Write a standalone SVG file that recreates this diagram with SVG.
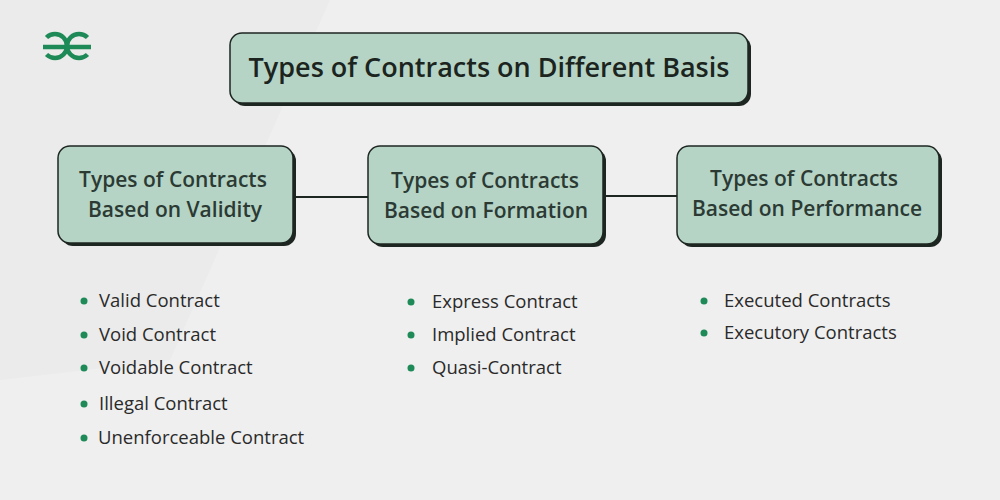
<svg xmlns="http://www.w3.org/2000/svg" width="1000" height="500" viewBox="0 0 1000 500">
<style>
.box{fill:#b5d4c6;stroke:#1e2622;stroke-width:1.5}
.sh{fill:#1e2622}
.t{font-family:"Open Sans","Noto Sans",sans-serif;font-weight:600;fill:#2c3a34;text-anchor:middle}
.li{font-family:"Open Sans","Noto Sans",sans-serif;font-size:18.5px;fill:#2a2a2a}
.dot{fill:#1e8a57}
</style>
<rect width="1000" height="500" fill="#efefef"/>
<polygon points="0,0 330,0 170,360 0,380" fill="#ebebeb"/>
<g id="logo" fill="none" stroke="#1e8a57" stroke-width="4.5">
<path d="M46.5,37.5 A12,12 0 1 1 46.5,54.5 M43,47 H67"/>
<path d="M87.5,37.5 A12,12 0 1 0 87.5,54.5 M67,47 H91"/>
</g>
<g id="title">
<rect class="sh" x="233" y="36" width="518" height="70" rx="12"/>
<rect class="box" x="230" y="33" width="518" height="70" rx="12"/>
<text class="t" x="489" y="77" font-size="27" style="fill:#1c2420">Types of Contracts on Different Basis</text>
</g>
<g id="connectors" stroke="#1e2622" stroke-width="2">
<line x1="294" y1="197" x2="368" y2="197"/>
<line x1="604" y1="196" x2="677" y2="196"/>
</g>
<g id="validity">
<rect class="sh" x="61" y="149" width="235" height="97" rx="12"/>
<rect class="box" x="58" y="146" width="235" height="97" rx="12"/>
<text class="t" x="173" y="187" font-size="21">Types of Contracts</text>
<text class="t" x="175" y="217" font-size="21">Based on Validity</text>
</g>
<g id="formation">
<rect class="sh" x="371" y="149" width="235" height="98" rx="12"/>
<rect class="box" x="368" y="146" width="235" height="98" rx="12"/>
<text class="t" x="485" y="188" font-size="21">Types of Contracts</text>
<text class="t" x="486" y="218" font-size="21">Based on Formation</text>
</g>
<g id="performance">
<rect class="sh" x="680" y="149" width="262" height="98" rx="12"/>
<rect class="box" x="677" y="146" width="262" height="98" rx="12"/>
<text class="t" x="804" y="186" font-size="21">Types of Contracts</text>
<text class="t" x="807" y="216" font-size="21">Based on Performance</text>
</g>
<g id="list-validity">
<circle class="dot" cx="84" cy="301" r="3.5"/><text class="li" x="99" y="307">Valid Contract</text>
<circle class="dot" cx="84" cy="335" r="3.5"/><text class="li" x="99" y="341">Void Contract</text>
<circle class="dot" cx="84" cy="368" r="3.5"/><text class="li" x="99" y="374">Voidable Contract</text>
<circle class="dot" cx="84" cy="404" r="3.5"/><text class="li" x="99" y="410">Illegal Contract</text>
<circle class="dot" cx="84" cy="438" r="3.5"/><text class="li" x="98" y="444">Unenforceable Contract</text>
</g>
<g id="list-formation">
<circle class="dot" cx="411" cy="302" r="3.5"/><text class="li" x="432" y="308">Express Contract</text>
<circle class="dot" cx="411" cy="335" r="3.5"/><text class="li" x="432" y="341">Implied Contract</text>
<circle class="dot" cx="411" cy="368" r="3.5"/><text class="li" x="432" y="374">Quasi-Contract</text>
</g>
<g id="list-performance">
<circle class="dot" cx="704" cy="301" r="3.5"/><text class="li" x="724" y="307">Executed Contracts</text>
<circle class="dot" cx="704" cy="333" r="3.5"/><text class="li" x="724" y="339">Executory Contracts</text>
</g>
</svg>
